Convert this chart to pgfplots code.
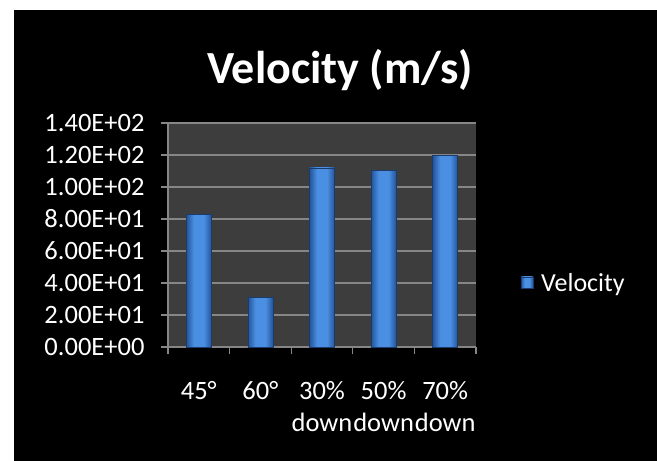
\documentclass[border=0pt]{standalone}
\usepackage{pgfplots}
\pgfplotsset{compat=1.18}
\usepackage{fontspec}
\setmainfont{Carlito}
\definecolor{plotbg}{HTML}{3D3D3D}
\definecolor{gridc}{HTML}{868686}
\definecolor{bardark}{HTML}{25549A}
\definecolor{barmid}{HTML}{4A8FE2}
\pgfdeclarehorizontalshading{barshade}{100bp}{color(0bp)=(bardark); color(25bp)=(bardark); color(40bp)=(barmid); color(60bp)=(barmid); color(75bp)=(bardark); color(100bp)=(bardark)}
\pgfplotsset{mybar/.style={ybar, bar width=25bp, bar shift=0pt, draw=bardark!70!black, shading=barshade, shade}}
\begin{document}
\begin{tikzpicture}
\fill[white] (-168bp,-114bp) rectangle (489bp,347bp);
\fill[black] (-154bp,-114bp) rectangle (489bp,337bp);
\begin{axis}[
  at={(0,0)}, anchor=south west,
  scale only axis, width=308bp, height=224bp,
  xmin=-0.5, xmax=4.5, ymin=0, ymax=140,
  axis background/.style={fill=plotbg},
  axis x line*=bottom, axis y line*=left,
  axis line style={gridc, line width=1.2bp},
  ymajorgrids, grid style={gridc, line width=1.5bp},
  ytick={0,20,40,60,80,100,120,140},
  yticklabels={0.00E+00,2.00E+01,4.00E+01,6.00E+01,8.00E+01,1.00E+02,1.20E+02,1.40E+02},
  xtick={-0.5,0.5,1.5,2.5,3.5,4.5}, xticklabels={{},{},{},{},{},{}},
  extra x ticks={0,1,2,3,4},
  extra x tick labels={45°,60°,{30\%\\down},{50\%\\down},{70\%\\down}},
  extra x tick style={major tick length=0pt},
  tick align=outside, major tick length=7bp,
  tick style={gridc, line width=1.2bp},
  ticklabel style={font=\fontsize{26.5bp}{32bp}\selectfont, text=white},
  xticklabel style={align=center, anchor=north, yshift=-31bp},
  yticklabel style={xshift=-13bp},
  title={Velocity (m/s)},
  title style={at={(0.558,1.21)}, anchor=center, font=\bfseries\fontsize{46bp}{50bp}\selectfont, text=white},
  legend style={at={(1.135,0.286)}, anchor=west, draw=none, fill=none, text=white,
    font=\fontsize{26bp}{30bp}\selectfont,
    /tikz/every odd column/.append style={column sep=6bp}},
  legend image code/.code={\shade[shading=barshade] (0bp,-5bp) rectangle (12bp,6bp);},
]
\addplot[mybar] coordinates {(0,83.1)};
\addlegendentry{Velocity}
\addplot[mybar, forget plot] coordinates {(1,31)};
\addplot[mybar, forget plot] coordinates {(2,112)};
\addplot[mybar, forget plot] coordinates {(3,110.4)};
\addplot[mybar, forget plot] coordinates {(4,119.8)};
\end{axis}
\pgfresetboundingbox
\useasboundingbox (-168bp,-114bp) rectangle (489bp,347bp);
\end{tikzpicture}
\end{document}
